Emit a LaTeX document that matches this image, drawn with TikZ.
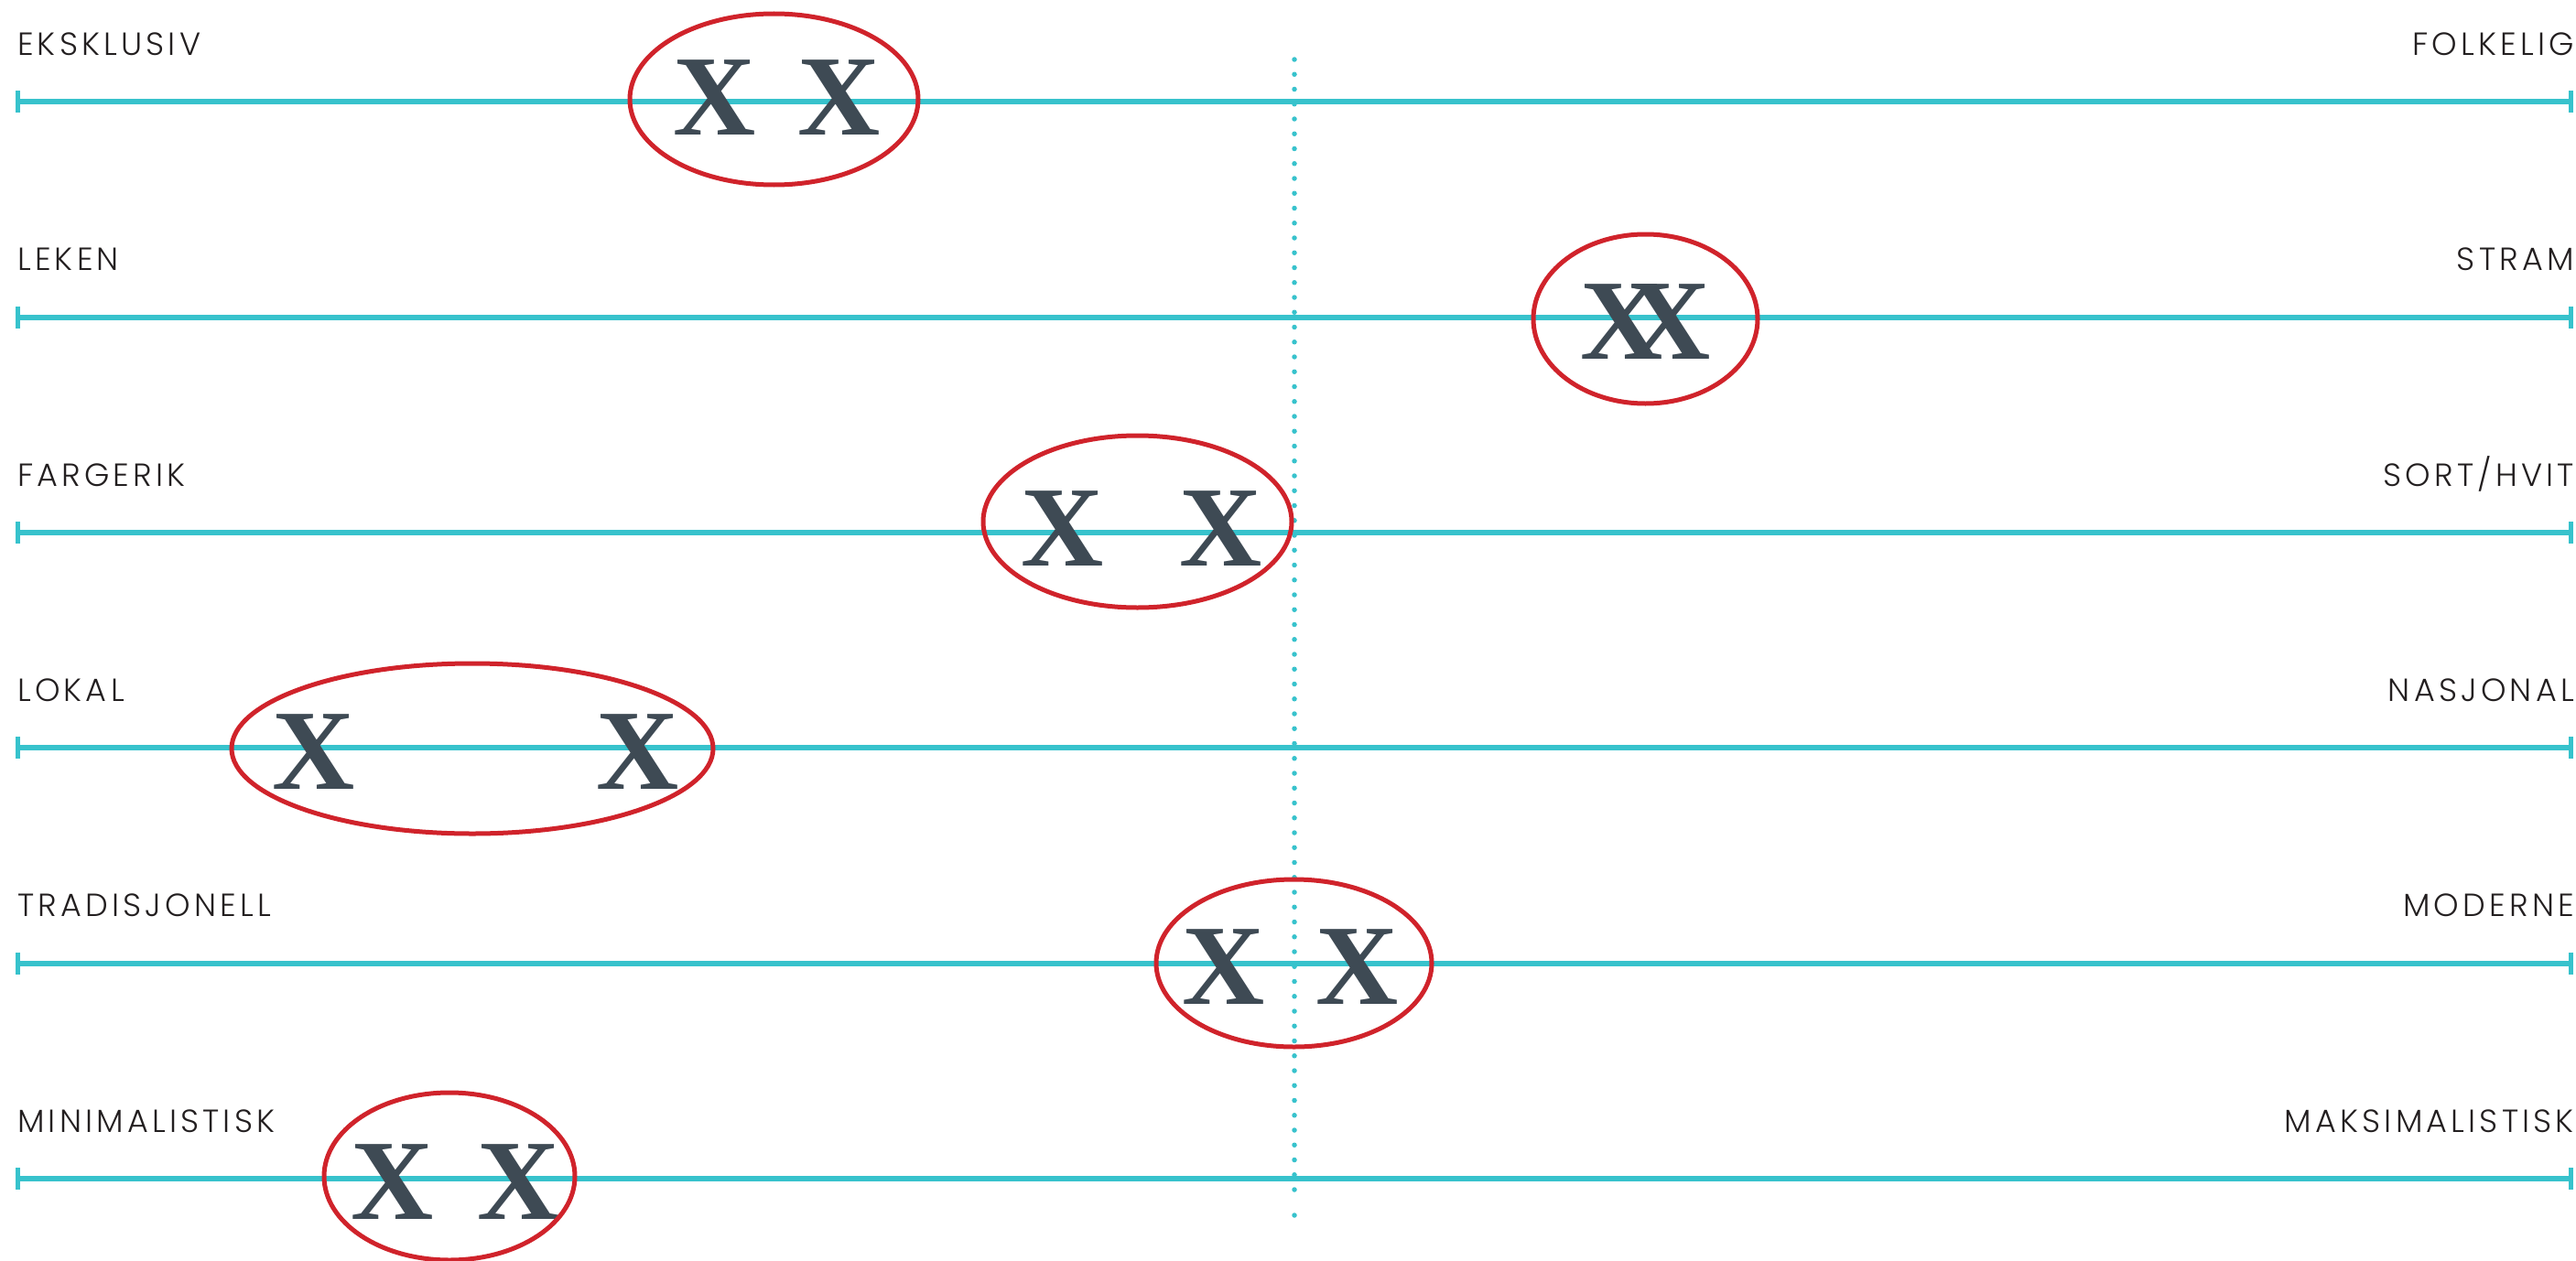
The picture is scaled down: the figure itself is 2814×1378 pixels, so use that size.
\documentclass[tikz,border=0pt]{standalone}
\usepackage{fontspec}
\setmainfont{Liberation Serif}
\IfFontExistsTF{Poppins Light}
  {\newfontfamily\lblfont{Poppins Light}[LetterSpace=12]}
  {\newfontfamily\lblfont{Poppins}[LetterSpace=12]}
\newfontfamily\xfont{Liberation Serif}
\usetikzlibrary{shapes.geometric}
\definecolor{axiscol}{HTML}{37C2CC}
\definecolor{ringcol}{HTML}{D0232B}
\definecolor{xcol}{HTML}{3E4A54}
\definecolor{lblcol}{HTML}{231F20}
\tikzset{
  axisline/.style={draw=axiscol, line width=6pt},
  endtick/.style={draw=axiscol, line width=5pt},
  dotline/.style={draw=axiscol, line width=5.5pt, line cap=round, dash pattern=on 0pt off 16.25pt},
  lbl/.style={font=\lblfont\fontsize{35}{40}\selectfont, text=lblcol, inner sep=0pt},
  xmark/.style={font=\xfont\bfseries\fontsize{125}{130}\selectfont, text=xcol, inner sep=0pt, anchor=base},
  ring/.style={ellipse, draw=ringcol, line width=5pt, inner sep=0pt}
}
\begin{document}
\begin{tikzpicture}[x=1pt,y=-1pt]
\useasboundingbox (0,0) rectangle (2814,1378);
% axis lines with end ticks and labels
\foreach \i/\y/\ltxt/\rtxt in {1/111.5/EKSKLUSIV/FOLKELIG, 2/346.8/LEKEN/STRAM, 3/582.1/FARGERIK/{SORT/HVIT}, 4/817.4/LOKAL/NASJONAL, 5/1052.7/TRADISJONELL/MODERNE, 6/1288/MINIMALISTISK/MAKSIMALISTISK}{
  \coordinate (a\i) at (19,\y);
  \coordinate (b\i) at (2808.5,\y);
  \draw[axisline] (a\i) -- (b\i);
  \draw[endtick] ([yshift=12pt]a\i) -- ([yshift=-12pt]a\i);
  \draw[endtick] ([yshift=12pt]b\i) -- ([yshift=-12pt]b\i);
  \node[lbl, anchor=base west] (L\i) at (19,\y-51) {\ltxt};
  \node[lbl, anchor=base east] (R\i) at (2812,\y-51) {\rtxt};
}
% central dotted line
\coordinate (dtop) at (1414,65);
\coordinate (dbot) at (1414,1316.25);
\coordinate (dend) at (1414,1328);
\draw[dotline] (dtop) -- (dbot);
\fill[axiscol] (dend) circle (2.75pt);
% marks and rings
\foreach \i/\cx/\cy/\rx/\ry/\xa/\xb/\xbase in {1/845.5/108.5/157.5/93.5/781/917/148, 2/1797.5/348.5/122.5/92.5/1772/1824/392, 3/1242.5/570/168.5/94/1161/1334/618, 4/516/818/263/93/342.5/696.5/862, 5/1413.5/1052.5/150.5/91.5/1337/1483/1097, 6/491/1285.5/137/91.5/428.5/566.5/1332}{
  \node[xmark] (xa\i) at (\xa,\xbase) {X};
  \node[xmark] (xb\i) at (\xb,\xbase) {X};
  \node[ring, minimum width={2*\rx*1pt}, minimum height={2*\ry*1pt}] (e\i) at (\cx,\cy) {};
}
\end{tikzpicture}
\end{document}
